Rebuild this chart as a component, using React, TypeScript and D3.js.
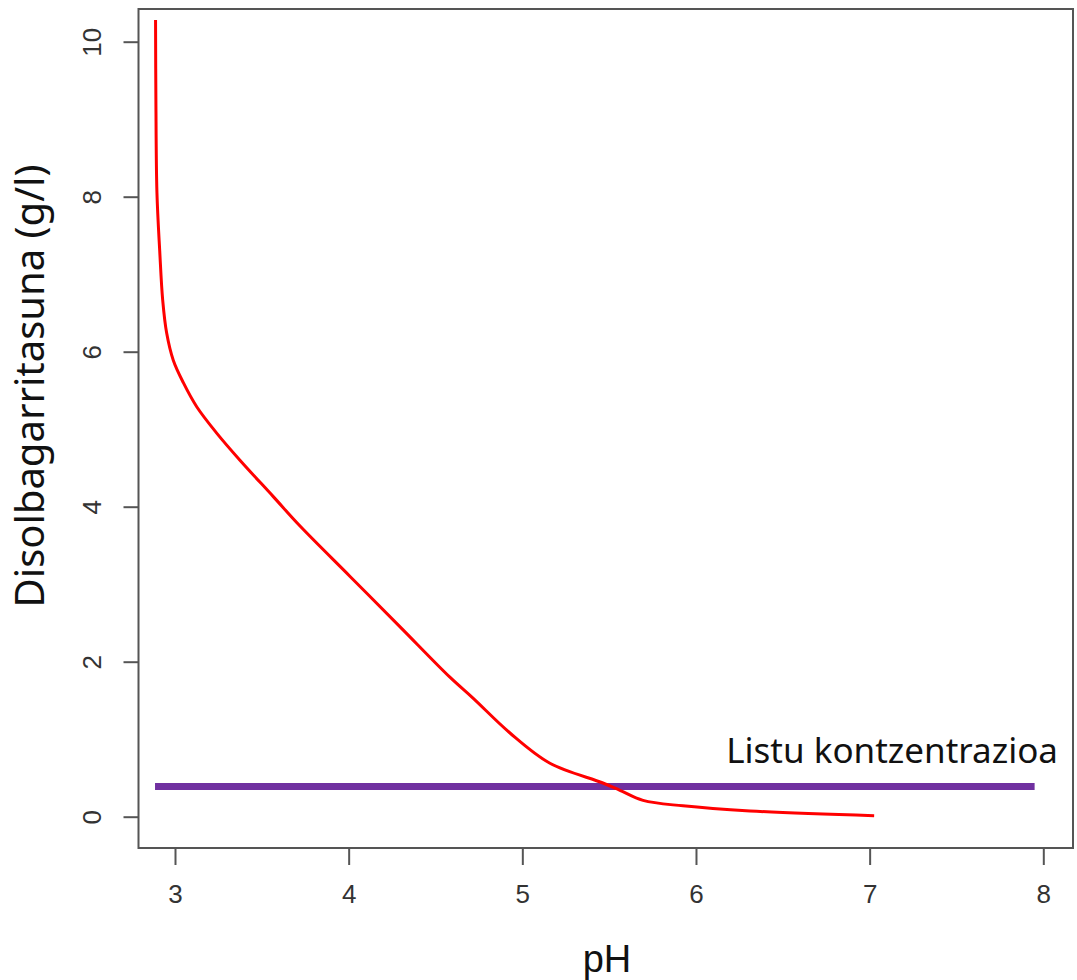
import React, { useEffect, useRef } from "react";
import * as d3 from "d3";

// red curve: solubility vs pH
const phValues = [2.888, 2.89, 2.896, 2.912, 2.929, 2.952, 2.99, 3.048, 3.125, 3.24, 3.374, 3.566, 3.72, 4.008, 4.296, 4.583, 4.716, 4.929, 5.159, 5.464, 5.562, 5.695, 5.925, 6.311, 7.026];
const solubility = [10.28, 9.25, 8.05, 7.3, 6.67, 6.24, 5.89, 5.6, 5.29, 4.95, 4.6, 4.13, 3.75, 3.1, 2.45, 1.8, 1.53, 1.08, 0.69, 0.435, 0.34, 0.21, 0.14, 0.074, 0.013];

// purple horizontal line
const limitPh = [2.885, 7.95];
const limitValue = 0.39;
const limitLabel = "Listu kontzentrazioa";

const xTicks = [3, 4, 5, 6, 7, 8];
const yTicks = [0, 2, 4, 6, 8, 10];
const xTitle = "pH";
const yTitle = "Disolbagarritasuna (g/l)";

const W = 1077,
  H = 980;
const box = { left: 138.5, top: 9, right: 1073, bottom: 848 };

export default function App() {
  const ref = useRef<SVGSVGElement>(null);

  useEffect(() => {
    const svg = d3.select(ref.current);
    svg.selectAll("*").remove();

    const x = d3.scaleLinear().domain([3, 8]).range([175, 1043.3]);
    const y = d3.scaleLinear().domain([0, 10]).range([816.7, 41.7]);

    // plot frame
    svg
      .append("rect")
      .attr("x", box.left)
      .attr("y", box.top)
      .attr("width", box.right - box.left)
      .attr("height", box.bottom - box.top)
      .attr("fill", "none")
      .attr("stroke", "#555")
      .attr("stroke-width", 2);

    // x axis
    const xAxis = svg
      .append("g")
      .attr("transform", `translate(0, ${box.bottom})`)
      .call(d3.axisBottom(x).tickValues(xTicks).tickSize(17).tickPadding(20).tickFormat(d3.format("d")));
    xAxis.select(".domain").remove();
    xAxis.selectAll("line").attr("stroke", "#555").attr("stroke-width", 2);
    xAxis
      .selectAll("text")
      .attr("fill", "#333")
      .style("font-family", "'Liberation Sans', Arial, sans-serif")
      .style("font-size", "26px");

    // y axis
    const yAxis = svg
      .append("g")
      .attr("transform", `translate(${box.left}, 0)`)
      .call(d3.axisLeft(y).tickValues(yTicks).tickSize(15).tickPadding(0).tickFormat(d3.format("d")));
    yAxis.select(".domain").remove();
    yAxis.selectAll("line").attr("stroke", "#555").attr("stroke-width", 2);
    yAxis
      .selectAll("text")
      .attr("fill", "#333")
      .attr("x", 0)
      .attr("dy", 0)
      .attr("text-anchor", "middle")
      .attr("transform", "translate(-47, 0) rotate(-90)")
      .attr("y", 0)
      .attr("dominant-baseline", "central")
      .style("font-family", "'Liberation Sans', Arial, sans-serif")
      .style("font-size", "26px");

    // limit line
    svg
      .append("line")
      .attr("x1", x(limitPh[0]))
      .attr("x2", x(limitPh[1]))
      .attr("y1", y(limitValue))
      .attr("y2", y(limitValue))
      .attr("stroke", "#7030a0")
      .attr("stroke-width", 7);

    // solubility curve
    const pts: [number, number][] = phValues.map((p, i) => [p, solubility[i]]);
    const line = d3
      .line<[number, number]>()
      .x(d => x(d[0]))
      .y(d => y(d[1]))
      .curve(d3.curveCatmullRom.alpha(0.5));
    svg
      .append("path")
      .datum(pts)
      .attr("d", line)
      .attr("fill", "none")
      .attr("stroke", "#ff0000")
      .attr("stroke-width", 3);

    // label for the limit line
    svg
      .append("text")
      .attr("x", 1058)
      .attr("y", 763)
      .attr("text-anchor", "end")
      .attr("fill", "#111")
      .style("font-family", "'Noto Sans', sans-serif")
      .style("font-size", "35px")
      .text(limitLabel);

    // axis titles
    svg
      .append("text")
      .attr("x", 607)
      .attr("y", 972)
      .attr("text-anchor", "middle")
      .attr("fill", "#111")
      .style("font-family", "'Liberation Sans', Arial, sans-serif")
      .style("font-size", "38px")
      .text(xTitle);

    svg
      .append("text")
      .attr("transform", "translate(44, 386) rotate(-90)")
      .attr("text-anchor", "middle")
      .attr("fill", "#111")
      .style("font-family", "'Noto Sans', sans-serif")
      .style("font-size", "40px")
      .text(yTitle);
  }, []);

  return (
    <div style={{ position: "absolute", left: 0, top: 0 }}>
      <svg ref={ref} width={W} height={H} style={{ display: "block", background: "#fff" }} />
    </div>
  );
}
